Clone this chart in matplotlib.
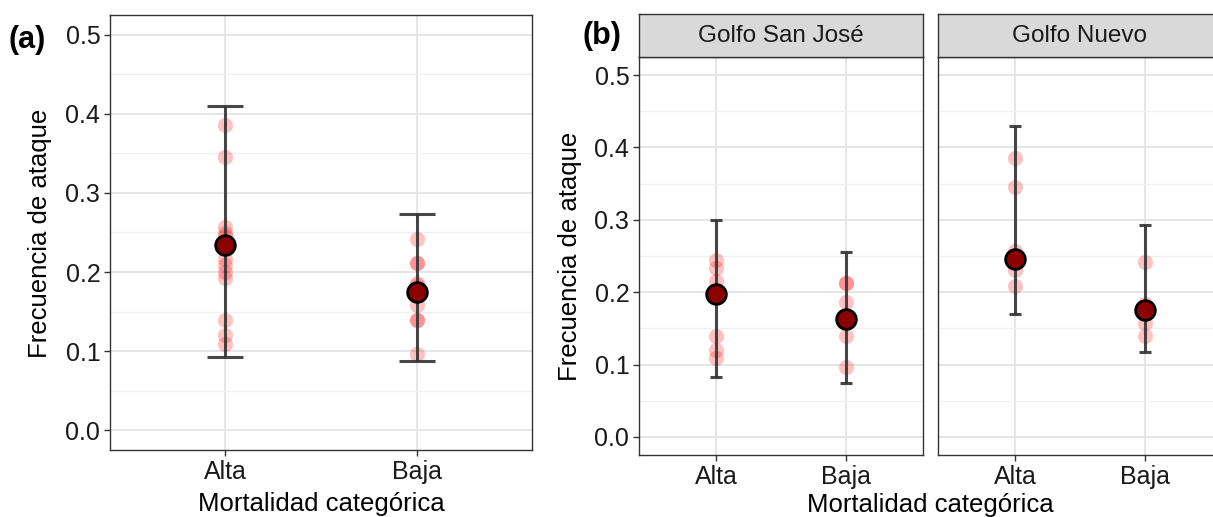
import numpy as np
import matplotlib
matplotlib.use("Agg")
import matplotlib.pyplot as plt
from matplotlib.ticker import MultipleLocator

plt.rcParams['font.family'] = ['Liberation Sans', 'DejaVu Sans']

categorias = ["Alta", "Baja"]

# (a) todos los golfos juntos
pts_a = {
    "Alta": [0.386, 0.346, 0.257, 0.250, 0.245, 0.234, 0.216, 0.209, 0.200, 0.193, 0.140, 0.120, 0.109],
    "Baja": [0.242, 0.212, 0.212, 0.186, 0.183, 0.158, 0.139, 0.139, 0.097],
}
est_a = [0.234, 0.175]
inf_a = [0.092, 0.087]
sup_a = [0.410, 0.274]

# (b) por golfo
golfos = ["Golfo San José", "Golfo Nuevo"]
pts_sj = {
    "Alta": [0.245, 0.234, 0.216, 0.140, 0.120, 0.109],
    "Baja": [0.212, 0.212, 0.186, 0.139, 0.097],
}
est_sj = [0.198, 0.163]
inf_sj = [0.083, 0.075]
sup_sj = [0.300, 0.256]

pts_gn = {
    "Alta": [0.385, 0.346, 0.257, 0.250, 0.231, 0.209],
    "Baja": [0.242, 0.183, 0.158, 0.139],
}
est_gn = [0.246, 0.175]
inf_gn = [0.170, 0.117]
sup_gn = [0.429, 0.293]

W, H = 1213, 517
fig = plt.figure(figsize=(W / 100, H / 100), dpi=100)

FS_TICK = 18
FS_LAB = 18.5


def px(x0, y0, x1, y1):
    # caja en pixeles (arriba-izquierda, abajo-derecha) -> fraccion de figura
    return [x0 / W, 1 - y1 / H, (x1 - x0) / W, (y1 - y0) / H]


def panel(ax, pts, est, inf, sup, capsize, show_y=True):
    ax.set_facecolor("white")
    for i, c in enumerate(categorias):
        y = pts[c]
        ax.scatter([i + 1] * len(y), y, s=120, color="red", alpha=0.24,
                   linewidths=0, zorder=3)
    x = np.arange(1, len(categorias) + 1)
    est = np.array(est)
    yerr = [est - np.array(inf), np.array(sup) - est]
    ax.errorbar(x, est, yerr=yerr, fmt="none", ecolor="#333333", elinewidth=2.2,
                capsize=capsize, capthick=2.2, zorder=4, alpha=0.9)
    ax.scatter(x, est, s=200, color="#8b0000", edgecolors="black",
               linewidths=2.0, zorder=5)
    ax.set_xlim(0.4, 2.6)
    ax.set_ylim(-0.025, 0.525)
    ax.set_xticks(x)
    ax.set_xticklabels(categorias)
    ax.yaxis.set_major_locator(MultipleLocator(0.1))
    ax.yaxis.set_minor_locator(MultipleLocator(0.05))
    ax.yaxis.set_major_formatter(lambda v, p: f"{v:.1f}")
    ax.grid(True, which="major", color="#e6e6e6", linewidth=1.4, zorder=0)
    ax.grid(True, which="minor", axis="y", color="#f0f0f0", linewidth=1.0, zorder=0)
    ax.set_axisbelow(True)
    for s in ax.spines.values():
        s.set_color("#333333")
        s.set_linewidth(1.0)
    ax.tick_params(axis="both", which="major", length=4, width=1,
                   color="#333333", labelsize=FS_TICK, labelcolor="#1a1a1a", pad=3)
    ax.tick_params(axis="y", which="minor", length=0)
    if not show_y:
        ax.tick_params(axis="y", which="both", left=False, labelleft=False)


# (a)
ax_a = fig.add_axes(px(110, 15, 532, 450))
panel(ax_a, pts_a, est_a, inf_a, sup_a, capsize=13)
fig.text(321 / W, 1 - 504 / H, "Mortalidad categórica", fontsize=FS_LAB,
         ha="center", va="center")
fig.text(40 / W, 1 - 233 / H, "Frecuencia de ataque", fontsize=FS_LAB,
         ha="center", va="center", rotation=90)
fig.text(8 / W, 1 - 40 / H, "(a)", fontsize=22, fontweight="bold", va="center")

# (b)
cajas = [(639, 923), (938, 1222)]
datos_b = [(pts_sj, est_sj, inf_sj, sup_sj), (pts_gn, est_gn, inf_gn, sup_gn)]
for k, ((x0, x1), d) in enumerate(zip(cajas, datos_b)):
    ax = fig.add_axes(px(x0, 57, x1, 455))
    panel(ax, *d, capsize=4.5, show_y=(k == 0))
    # tira con el nombre del golfo
    st = fig.add_axes(px(x0, 14, x1, 57))
    st.set_facecolor("#d9d9d9")
    st.set_xticks([])
    st.set_yticks([])
    for s in st.spines.values():
        s.set_color("#333333")
        s.set_linewidth(1.0)
    st.text(0.5, 0.48, golfos[k], transform=st.transAxes, ha="center",
            va="center", fontsize=17.5, color="#1a1a1a")

fig.text(570 / W, 1 - 256 / H, "Frecuencia de ataque", fontsize=FS_LAB,
         ha="center", va="center", rotation=90)
fig.text(930 / W, 1 - 505 / H, "Mortalidad categórica", fontsize=FS_LAB,
         ha="center", va="center")
fig.text(583 / W, 1 - 36 / H, "(b)", fontsize=22, fontweight="bold", va="center")

fig.savefig("out.png", dpi=100)
